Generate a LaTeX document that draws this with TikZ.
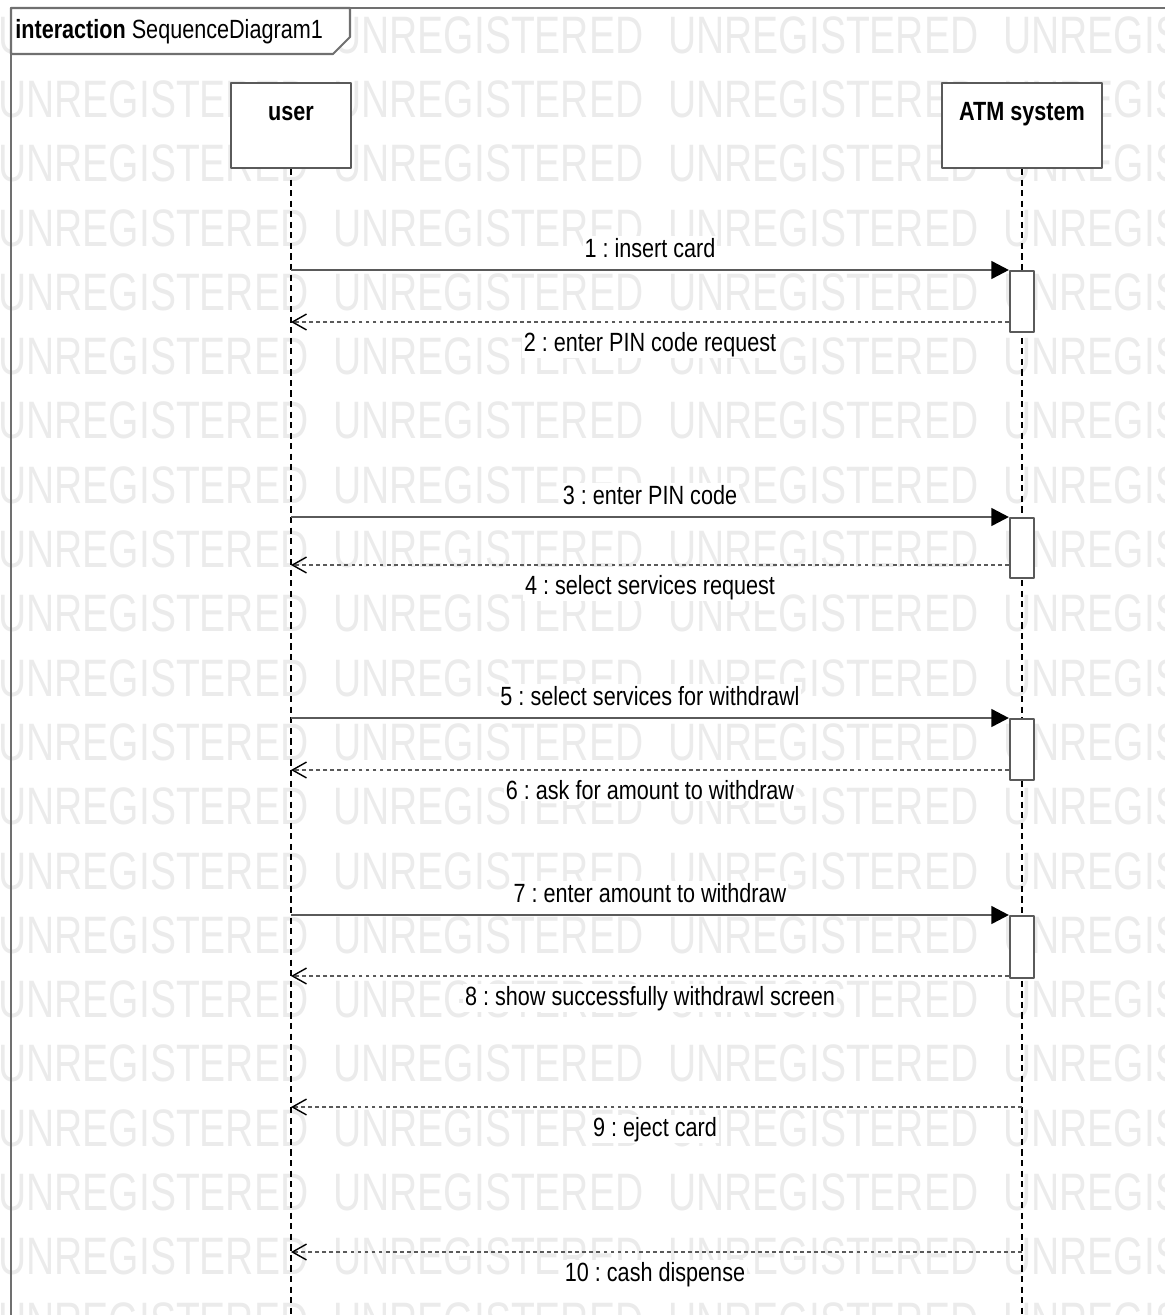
\documentclass[tikz,border=0pt]{standalone}
\usepackage{fontspec}
\setmainfont{Liberation Sans}[FakeStretch=0.82]
\newfontfamily\wmfont{Liberation Sans}[FakeStretch=0.74]
\usetikzlibrary{arrows.meta}
\definecolor{umlgray}{HTML}{5A5A5A}
\definecolor{framegray}{HTML}{707070}
\definecolor{wmgray}{HTML}{EBEBEB}
\frenchspacing
\tikzset{
  frame/.style={draw=framegray,line width=1.2pt},
  headbox/.style={draw=umlgray,line width=1.2pt,fill=white,inner sep=0pt,minimum height=1.7cm,text height=0.74cm,text depth=0.96cm,font=\fontsize{15}{18}\selectfont\bfseries},
  actbox/.style={draw=umlgray,line width=1.2pt,fill=white,inner sep=0pt,minimum width=0.48cm},
  lifeline/.style={black,line width=0.6pt,dash pattern=on 3.5pt off 2.5pt},
  call/.style={umlgray,line width=1.5pt,-{Triangle[length=10pt,width=10pt,color=black]}},
  reply/.style={umlgray,line width=1.5pt,dash pattern=on 2.2pt off 1.8pt,-{Straight Barb[length=8pt,width=9pt,color=black,line width=0.8pt]}},
  msglbl/.style={fill=white,inner sep=1pt},
  watermark/.style={anchor=west,inner sep=0pt,text=wmgray,font=\wmfont\fontsize{30}{30}\selectfont}
}
\begin{document}
\begin{tikzpicture}[x=0.02cm,y=-0.02cm,line join=round,font=\fontsize{15}{18}\selectfont]
  \useasboundingbox (0,0) rectangle (1165,1315);
  \clip (0,0) rectangle (1165,1315);
  \def\ux{291}
  \def\ax{1022}
  % background stamp
  \foreach \j in {0,...,20}{
    \foreach \k in {0,...,3}{
      \node[watermark] at (-2+335*\k,35+64.3*\j) {UNREGISTERED};
    }
  }
  % frame
  \draw[frame] (11,8) rectangle (1180,1330);
  \draw[frame,fill=white] (11,8) -- (350,8) -- (350,37) -- (333,54) -- (11,54) -- cycle;
  \node[anchor=base west,inner sep=0pt] (title) at (15,38) {\textbf{interaction} SequenceDiagram1};
  % lifelines
  \node[headbox,minimum width=2.4cm,anchor=north] (user) at (\ux,82) {user};
  \node[headbox,minimum width=3.2cm,anchor=north] (atm) at (\ax,82) {ATM system};
  \coordinate (end) at (0,1320);
  \draw[lifeline] (user.south) -- (user.south |- end);
  \draw[lifeline] (atm.south) -- (atm.south |- end);
  % messages
  \foreach \n/\y/\r/\b/\call/\reply in {
      1/270/322/331/{1 : insert card}/{2 : enter PIN code request},
      2/517/565/577/{3 : enter PIN code}/{4 : select services request},
      3/718/770/779/{5 : select services for withdrawl}/{6 : ask for amount to withdraw},
      4/915/976/977/{7 : enter amount to withdraw}/{8 : show successfully withdrawl screen}}{
    \pgfmathsetmacro\h{(\b-\y)*0.02}
    \node[actbox,minimum height=\h cm,anchor=north] (act\n) at (\ax,\y) {};
    \coordinate (u\n) at (\ux,\y);
    \coordinate (ur\n) at (\ux,\r);
    \draw[call] (u\n) -- (act\n.north west);
    \draw[reply] (act\n.west |- ur\n) -- (ur\n);
    \node[msglbl,anchor=base] (lc\n) at (650,\y-13) {\call};
    \node[msglbl,anchor=base] (lr\n) at (650,\r+29) {\reply};
  }
  \foreach \n/\r/\reply in {5/1107/{9 : eject card},6/1252/{10 : cash dispense}}{
    \coordinate (a\n) at (\ax,\r);
    \coordinate (ur\n) at (\ux,\r);
    \draw[reply] (a\n) -- (ur\n);
    \node[msglbl,anchor=base] (lr\n) at (655,\r+29) {\reply};
  }
\end{tikzpicture}
\end{document}
